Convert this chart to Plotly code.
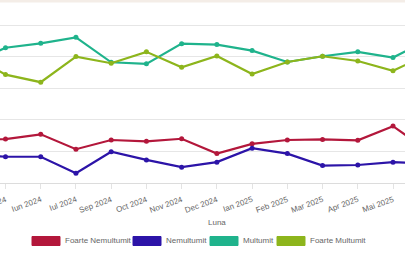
import plotly.graph_objects as go

months = ["Apr 2024", "Mai 2024", "Iun 2024", "Iul 2024", "Sep 2024", "Oct 2024", "Nov 2024",
          "Dec 2024", "Ian 2025", "Feb 2025", "Mar 2025", "Apr 2025", "Mai 2025", "Iun 2025"]

foarte_nemultumit = [13.6, 13.9, 15.4, 10.7, 13.6, 13.2, 14.0, 9.3, 12.4, 13.6, 13.8, 13.5, 18.0, 10.1]
nemultumit = [9.2, 8.3, 8.3, 3.1, 9.9, 7.3, 5.0, 6.6, 11.0, 9.3, 5.5, 5.7, 6.6, 6.2]
multumit = [37.7, 42.8, 44.2, 46.1, 38.2, 37.7, 44.1, 43.8, 41.9, 38.3, 40.1, 41.5, 39.7, 45.3]
foarte_multumit = [40.5, 34.3, 31.9, 40.0, 37.9, 41.5, 36.6, 40.2, 34.5, 38.3, 40.1, 38.6, 35.5, 40.8]

series_names = ["Foarte Nemultumit", "Nemultumit", "Multumit", "Foarte Multumit"]
series_values = [foarte_nemultumit, nemultumit, multumit, foarte_multumit]
colors = ["#b3173b", "#2c14a8", "#1fb38c", "#8db51c"]

W, H = 405, 265
BOTTOM = 82
PLOT_H = H - BOTTOM

fig = go.Figure()
for name, vals, c in zip(series_names, series_values, colors):
    fig.add_trace(go.Scatter(
        x=months, y=vals, name=name, mode="lines+markers",
        line=dict(color=c, width=2.2),
        marker=dict(color=c, size=5),
        showlegend=False, cliponaxis=True,
    ))

def py(p):
    return (PLOT_H - p) / PLOT_H

shapes = [dict(type="rect", xref="paper", yref="paper", x0=0, x1=1, y0=py(2.5), y1=py(0),
               fillcolor="#f4ede7", line=dict(width=0), layer="below")]
annotations = [dict(text="Luna", xref="paper", yref="paper", x=217 / W, y=py(222),
                    showarrow=False, font=dict(size=8, color="#666"), xanchor="center", yanchor="middle")]

legend_box_x = [32, 133, 210, 277]
for name, c, bx in zip(series_names, colors, legend_box_x):
    shapes.append(dict(type="rect", xref="paper", yref="paper",
                       x0=bx / W, x1=(bx + 28) / W, y0=py(245.5), y1=py(236.5),
                       fillcolor=c, line=dict(color=c, width=1)))
    annotations.append(dict(text=name, xref="paper", yref="paper", x=(bx + 31) / W, y=py(241),
                            showarrow=False, xanchor="left", yanchor="middle",
                            font=dict(size=8, color="#666")))

fig.update_layout(
    width=W, height=H,
    margin=dict(l=0, r=0, t=0, b=BOTTOM, pad=0, autoexpand=False),
    paper_bgcolor="white", plot_bgcolor="white",
    font=dict(family="Liberation Sans, Arial, sans-serif", size=8, color="#666"),
    shapes=shapes, annotations=annotations,
    xaxis=dict(type="category", range=[0.844, 12.34], showgrid=False, automargin=False,
               showline=True, linecolor="#dcdcdc", linewidth=1,
               ticks="outside", ticklen=5, tickcolor="#e3e3e3", tickwidth=1,
               ticklabelstandoff=3,
               tickangle=-20, tickfont=dict(size=8, color="#666")),
    yaxis=dict(range=[0, PLOT_H / 3.16], dtick=10, showgrid=True, gridcolor="#e6e6e6",
               gridwidth=1, zeroline=False, showticklabels=False, showline=False,
               automargin=False),
)

fig.write_html("out.html")
